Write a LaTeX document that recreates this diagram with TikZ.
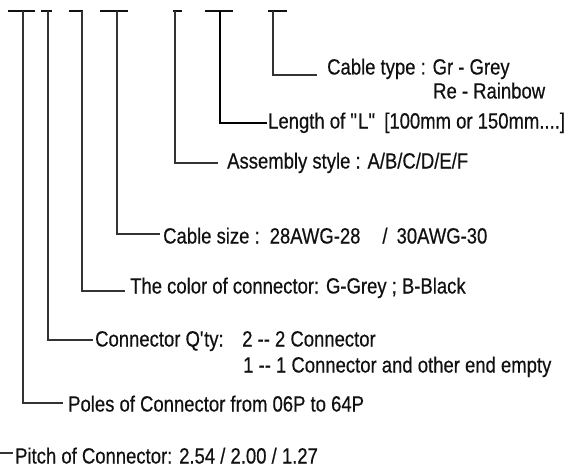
\documentclass[tikz,border=0pt]{standalone}
\usepackage{fontspec}
\setmainfont{Liberation Sans}[FakeStretch=0.84, FakeBold=0.5]
\usetikzlibrary{calc}
\definecolor{ink}{HTML}{111111}
\definecolor{lead}{HTML}{333333}
\tikzset{
  txt/.style = {anchor=west, inner sep=0pt, text height=15pt, text depth=0pt,
                font=\fontsize{22}{26}\selectfont, text=ink},
  bar/.style = {line width=2pt, draw=ink},
  ldr/.style = {line width=1.1pt, draw=lead},
  thk/.style = {ldr, line width=2.4pt, draw=black},
}

\begin{document}
\begin{tikzpicture}[x=1pt, y=-1pt]
  \useasboundingbox (0,0) rectangle (586,468);

  % ---------------- code bars ----------------
  \foreach \a/\b in {8/35, 41/52, 69/83, 100/128, 173/182, 205/233, 268/287}
    \draw[bar] (\a,11) -- (\b,11);
  \coordinate (t-poles) at (23,11);
  \coordinate (t-qty)   at (48,11);
  \coordinate (t-color) at (82,11);
  \coordinate (t-size)  at (117,11);
  \coordinate (t-asm)   at (175,11);
  \coordinate (t-len)   at (220,11);
  \coordinate (t-type)  at (273,11);
  \coordinate (t-pitch) at (0,453);

  % ---------------- labels ----------------
  \node[txt] (ctype)  at (327,67)  {Cable type : Gr - Grey};
  \node[txt] (ctype2) at (433,91)  {Re - Rainbow};
  \node[txt] (len)    at (268,121) {Length of \textquotedbl L\textquotedbl\hspace{8pt}[100mm or 150mm....]};
  \node[txt] (asm)    at (227,161) {Assembly style : A/B/C/D/E/F};
  \node[txt] (csize)  at (163,236) {Cable size :\hspace{10pt}28AWG-28\hspace{22pt}/\hspace{9pt}30AWG-30};
  \node[txt] (color)  at (130,286) {The color of connector: G-Grey ; B-Black};
  \node[txt] (qty)    at (95,339)  {Connector Q\textquotesingle ty:};
  \node[txt] (qty2)   at (242,339) {2 {-}{-} 2 Connector};
  \node[txt] (qty1)   at (243,365) {1 {-}{-} 1 Connector and other end empty};
  \node[txt] (poles)  at (68,404)  {Poles of Connector from 06P to 64P};
  \node[txt] (pitch)  at (15,456)  {Pitch of Connector: 2.54 / 2.00 / 1.27};

  % ---------------- leaders ----------------
  \draw[ldr] (t-type)  |- ([xshift=-10pt,yshift=-8pt]ctype.west);
  \draw[thk] (t-len)   |- ([xshift=-1pt,yshift=-2pt]len.west);
  \draw[ldr] (t-asm)   |- ([xshift=-9pt,yshift=-2pt]asm.west);
  \draw[ldr] (t-size)  |- ([xshift=-3pt,yshift=2pt]csize.west);
  \draw[ldr] (t-color) |- ([xshift=-5pt,yshift=-5pt]color.west);
  \draw[ldr] (t-qty)   |- ([xshift=-2pt,yshift=-1pt]qty.west);
  \draw[ldr] (t-poles) |- ([xshift=-5pt,yshift=1pt]poles.west);
  \draw[ldr] (t-pitch) -- ([xshift=-2pt,yshift=3pt]pitch.west);
\end{tikzpicture}
\end{document}
